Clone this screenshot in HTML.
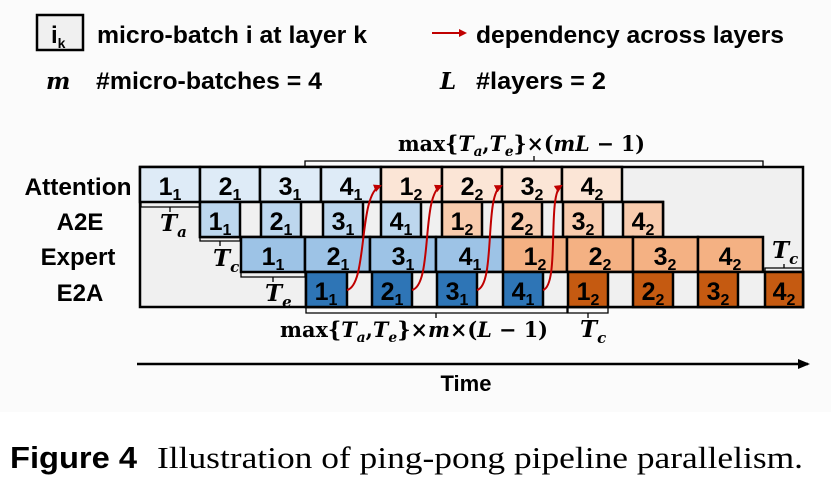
<!DOCTYPE html>
<html><head><meta charset="utf-8"><style>
body{margin:0;background:#fff}
svg{display:block}
.b{font-family:"Liberation Sans",sans-serif;font-weight:bold}
.m{font-family:"DejaVu Serif","Liberation Serif",serif;font-weight:bold}
</style></head><body>
<svg width="831" height="484" viewBox="0 0 831 484" xmlns="http://www.w3.org/2000/svg">
<rect x="0" y="0" width="831" height="412" fill="#fbfbfb"/>
<defs><marker id="ar" markerWidth="8" markerHeight="8" refX="6" refY="4" orient="auto" markerUnits="userSpaceOnUse"><path d="M0,0 L8,4 L0,8 z" fill="#c00000"/></marker>
<marker id="ak" markerWidth="12" markerHeight="10" refX="10" refY="5" orient="auto" markerUnits="userSpaceOnUse"><path d="M0,0 L12,5 L0,10 z" fill="#000"/></marker></defs>
<!-- legend -->
<rect x="37" y="15" width="46" height="35" fill="#f0f0f0" stroke="#000" stroke-width="2.5"/>
<text x="51" y="43" class="b" font-size="24">i<tspan font-size="14" dy="5">k</tspan></text>
<text x="97" y="43" class="b" font-size="24" textLength="270" lengthAdjust="spacingAndGlyphs">micro-batch i at layer k</text>
<text x="46" y="89" class="m" font-size="23" font-style="italic">m</text>
<text x="96" y="89" class="b" font-size="24" textLength="226" lengthAdjust="spacingAndGlyphs">#micro-batches = 4</text>
<line x1="432" y1="33" x2="465" y2="33" stroke="#c00000" stroke-width="2" marker-end="url(#ar)"/>
<text x="476" y="43" class="b" font-size="24" textLength="308" lengthAdjust="spacingAndGlyphs">dependency across layers</text>
<text x="440" y="89" class="m" font-size="23" font-style="italic">L</text>
<text x="476" y="89" class="b" font-size="24" textLength="130" lengthAdjust="spacingAndGlyphs">#layers = 2</text>
<!-- gray area -->
<rect x="140" y="167" width="663" height="140" fill="#f0f0f0" stroke="#000" stroke-width="2.5"/>
<g stroke="#000" stroke-width="2.5">
<rect x="140" y="167" width="60" height="35" fill="#deebf7"/>
<rect x="200" y="167" width="60" height="35" fill="#deebf7"/>
<rect x="260" y="167" width="61" height="35" fill="#deebf7"/>
<rect x="321" y="167" width="60" height="35" fill="#deebf7"/>
<rect x="381" y="167" width="61" height="35" fill="#fbe5d6"/>
<rect x="442" y="167" width="60" height="35" fill="#fbe5d6"/>
<rect x="502" y="167" width="60" height="35" fill="#fbe5d6"/>
<rect x="562" y="167" width="60" height="35" fill="#fbe5d6"/>
<rect x="200" y="202" width="463" height="35" fill="#f0f0f0"/>
<rect x="200" y="202" width="40" height="35" fill="#bdd7ee"/>
<rect x="261" y="202" width="40" height="35" fill="#bdd7ee"/>
<rect x="323" y="202" width="40" height="35" fill="#bdd7ee"/>
<rect x="381" y="202" width="40" height="35" fill="#bdd7ee"/>
<rect x="442" y="202" width="40" height="35" fill="#f8cbad"/>
<rect x="503" y="202" width="39" height="35" fill="#f8cbad"/>
<rect x="563" y="202" width="40" height="35" fill="#f8cbad"/>
<rect x="623" y="202" width="40" height="35" fill="#f8cbad"/>
<rect x="241" y="237" width="64" height="35" fill="#9dc3e6"/>
<rect x="305" y="237" width="65" height="35" fill="#9dc3e6"/>
<rect x="370" y="237" width="66" height="35" fill="#9dc3e6"/>
<rect x="436" y="237" width="67" height="35" fill="#9dc3e6"/>
<rect x="503" y="237" width="64" height="35" fill="#f4b183"/>
<rect x="567" y="237" width="66" height="35" fill="#f4b183"/>
<rect x="633" y="237" width="65" height="35" fill="#f4b183"/>
<rect x="698" y="237" width="65" height="35" fill="#f4b183"/>
<rect x="306" y="272" width="497" height="35" fill="#f0f0f0"/>
<rect x="306" y="272" width="41" height="35" fill="#2e75b6"/>
<rect x="372" y="272" width="40" height="35" fill="#2e75b6"/>
<rect x="437" y="272" width="40" height="35" fill="#2e75b6"/>
<rect x="503" y="272" width="40" height="35" fill="#2e75b6"/>
<rect x="568" y="272" width="40" height="35" fill="#c55a11"/>
<rect x="633" y="272" width="40" height="35" fill="#c55a11"/>
<rect x="698" y="272" width="40" height="35" fill="#c55a11"/>
<rect x="765" y="272" width="38" height="35" fill="#c55a11"/>
</g>
<g class="b" font-size="25" text-anchor="middle">
<text x="170" y="195">1<tspan font-size="16" dy="5">1</tspan></text>
<text x="230" y="195">2<tspan font-size="16" dy="5">1</tspan></text>
<text x="290" y="195">3<tspan font-size="16" dy="5">1</tspan></text>
<text x="351" y="195">4<tspan font-size="16" dy="5">1</tspan></text>
<text x="411" y="195">1<tspan font-size="16" dy="5">2</tspan></text>
<text x="472" y="195">2<tspan font-size="16" dy="5">2</tspan></text>
<text x="532" y="195">3<tspan font-size="16" dy="5">2</tspan></text>
<text x="592" y="195">4<tspan font-size="16" dy="5">2</tspan></text>
<text x="220" y="230">1<tspan font-size="16" dy="5">1</tspan></text>
<text x="281" y="230">2<tspan font-size="16" dy="5">1</tspan></text>
<text x="343" y="230">3<tspan font-size="16" dy="5">1</tspan></text>
<text x="401" y="230">4<tspan font-size="16" dy="5">1</tspan></text>
<text x="462" y="230">1<tspan font-size="16" dy="5">2</tspan></text>
<text x="522" y="230">2<tspan font-size="16" dy="5">2</tspan></text>
<text x="583" y="230">3<tspan font-size="16" dy="5">2</tspan></text>
<text x="643" y="230">4<tspan font-size="16" dy="5">2</tspan></text>
<text x="273" y="265">1<tspan font-size="16" dy="5">1</tspan></text>
<text x="338" y="265">2<tspan font-size="16" dy="5">1</tspan></text>
<text x="403" y="265">3<tspan font-size="16" dy="5">1</tspan></text>
<text x="470" y="265">4<tspan font-size="16" dy="5">1</tspan></text>
<text x="535" y="265">1<tspan font-size="16" dy="5">2</tspan></text>
<text x="600" y="265">2<tspan font-size="16" dy="5">2</tspan></text>
<text x="665" y="265">3<tspan font-size="16" dy="5">2</tspan></text>
<text x="730" y="265">4<tspan font-size="16" dy="5">2</tspan></text>
<text x="326" y="300">1<tspan font-size="16" dy="5">1</tspan></text>
<text x="392" y="300">2<tspan font-size="16" dy="5">1</tspan></text>
<text x="457" y="300">3<tspan font-size="16" dy="5">1</tspan></text>
<text x="523" y="300">4<tspan font-size="16" dy="5">1</tspan></text>
<text x="588" y="300">1<tspan font-size="16" dy="5">2</tspan></text>
<text x="653" y="300">2<tspan font-size="16" dy="5">2</tspan></text>
<text x="718" y="300">3<tspan font-size="16" dy="5">2</tspan></text>
<text x="784" y="300">4<tspan font-size="16" dy="5">2</tspan></text>
</g>
<g class="b" font-size="24" text-anchor="middle">
<text x="78" y="195" textLength="107" lengthAdjust="spacingAndGlyphs">Attention</text>
<text x="80" y="230">A2E</text>
<text x="78" y="265">Expert</text>
<text x="80" y="301">E2A</text>
</g>
<g fill="none" stroke="#c00000" stroke-width="2" marker-end="url(#ar)">
<path d="M347,290 C368,285 358,195 380,186"/>
<path d="M412,290 C433,285 421,195 441,186"/>
<path d="M477,290 C496,285 484,195 501,186"/>
<path d="M543,290 C560,285 547,195 561,186"/>
</g>
<g fill="none" stroke="#000" stroke-width="1.3">
<path d="M141,203 V207 H200 V203 M170,207 V212"/>
<path d="M200,238 V241 H240 V238 M220,241 V246"/>
<path d="M241,273 V277 H305 V273 M273,277 V282"/>
<path d="M305,166 V161 H763 V166 M534,161 V156"/>
<path d="M306,308 V313 H567 V308 M436,313 V318"/>
<path d="M568,308 V313 H608 V308 M588,313 V318"/>
<path d="M765,271 V268 H803 V271 M784,268 V264"/>
</g>
<g class="m" font-size="23" font-style="italic">
<text x="160" y="231">T<tspan font-size="15" dy="6">a</tspan></text>
<text x="213" y="266">T<tspan font-size="15" dy="6">c</tspan></text>
<text x="265" y="301">T<tspan font-size="15" dy="6">e</tspan></text>
<text x="580" y="337">T<tspan font-size="15" dy="6">c</tspan></text>
<text x="772" y="258">T<tspan font-size="15" dy="6">c</tspan></text>
</g>
<text x="398" y="151" class="m" font-size="21" textLength="247" lengthAdjust="spacingAndGlyphs">max{<tspan font-style="italic">T</tspan><tspan font-style="italic" font-size="14" dy="5">a</tspan><tspan dy="-5">,</tspan><tspan font-style="italic">T</tspan><tspan font-style="italic" font-size="14" dy="5">e</tspan><tspan dy="-5">}×(</tspan><tspan font-style="italic">mL</tspan> − 1)</text>
<text x="280" y="337" class="m" font-size="21" textLength="268" lengthAdjust="spacingAndGlyphs">max{<tspan font-style="italic">T</tspan><tspan font-style="italic" font-size="14" dy="5">a</tspan><tspan dy="-5">,</tspan><tspan font-style="italic">T</tspan><tspan font-style="italic" font-size="14" dy="5">e</tspan><tspan dy="-5">}×</tspan><tspan font-style="italic">m</tspan>×(<tspan font-style="italic">L</tspan> − 1)</text>
<line x1="137" y1="364" x2="808" y2="364" stroke="#000" stroke-width="2.5" marker-end="url(#ak)"/>
<text x="466" y="391" class="b" font-size="22" text-anchor="middle">Time</text>
<text x="10" y="468" class="b" font-size="31" textLength="127" lengthAdjust="spacingAndGlyphs">Figure 4</text>
<text x="157" y="468" font-family="Liberation Serif,serif" font-size="31" textLength="646" lengthAdjust="spacingAndGlyphs">Illustration of ping-pong pipeline parallelism.</text>
</svg>
</body></html>
